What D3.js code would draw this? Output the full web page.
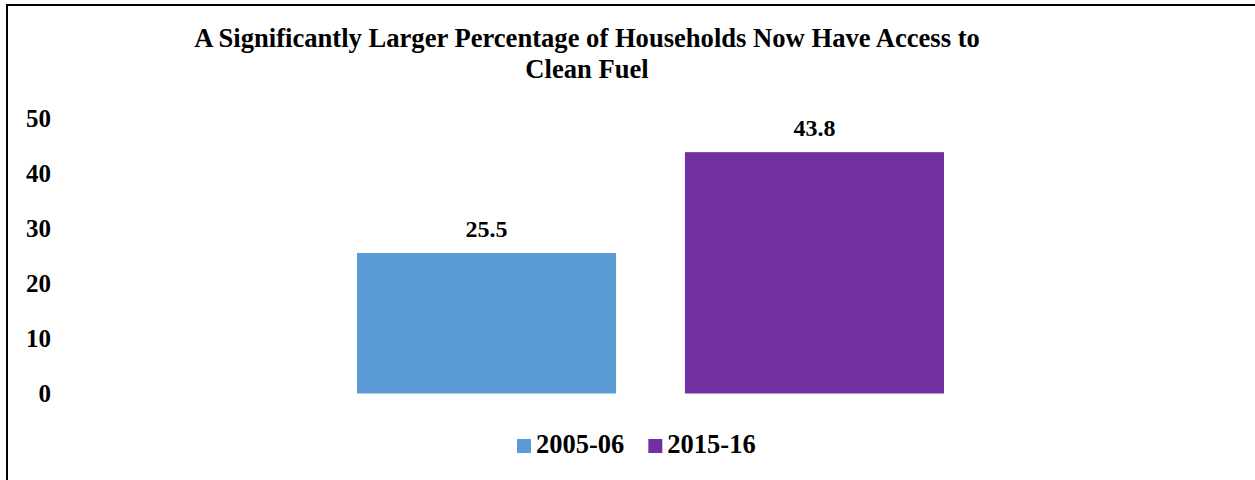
<!DOCTYPE html>
<html>
<head>
<meta charset="utf-8">
<script src="https://cdn.jsdelivr.net/npm/d3@7"></script>
<style>
  html, body { margin: 0; padding: 0; background: #fff; }
  text { font-family: "Liberation Serif", "Times New Roman", serif; font-weight: bold; fill: #000; }
</style>
</head>
<body>
<div id="chart"></div>
<script>
const titleLines = ["A Significantly Larger Percentage of Households Now Have Access to", "Clean Fuel"];
const series = ["2005-06", "2015-16"];
const values = [25.5, 43.8];
const colors = ["#5B9BD5", "#7030A0"];
const yTicks = [0, 10, 20, 30, 40, 50];

const width = 1255, height = 480;
const svg = d3.select("#chart").append("svg")
    .attr("width", width)
    .attr("height", height);

// outer frame, only left and top edges fall inside the picture
svg.append("rect")
    .attr("x", 7).attr("y", 5)
    .attr("width", 1300).attr("height", 520)
    .attr("fill", "none")
    .attr("stroke", "#000")
    .attr("stroke-width", 2);

const y = d3.scaleLinear().domain([0, 50]).range([393.5, 118]);
const x = d3.scaleBand().domain(series).range([357, 944]).paddingInner(0.21);

// title
svg.append("g").selectAll("text")
    .data(titleLines)
    .join("text")
    .attr("x", 587)
    .attr("y", (d, i) => 47 + i * 31)
    .attr("text-anchor", "middle")
    .style("font-size", "26.6px")
    .text(d => d);

// y axis, labels only
const yAxis = svg.append("g")
    .attr("transform", "translate(51,0)")
    .call(d3.axisLeft(y).tickValues(yTicks).tickSize(0).tickPadding(0).tickFormat(d3.format("d")));
yAxis.select(".domain").remove();
yAxis.selectAll("text")
    .style("font-size", "25px")
    .style("font-family", "'Liberation Serif', 'Times New Roman', serif")
    .style("font-weight", "bold")
    .attr("fill", "#000");

// bars
svg.append("g").selectAll("rect")
    .data(values)
    .join("rect")
    .attr("x", (d, i) => x(series[i]))
    .attr("y", d => y(d))
    .attr("width", x.bandwidth())
    .attr("height", d => y(0) - y(d))
    .attr("fill", (d, i) => colors[i]);

// value labels
svg.append("g").selectAll("text")
    .data(values)
    .join("text")
    .attr("x", (d, i) => x(series[i]) + x.bandwidth() / 2)
    .attr("y", d => y(d) - 16)
    .attr("text-anchor", "middle")
    .style("font-size", "24px")
    .text(d => d3.format(".1f")(d));

// legend
const legend = svg.append("g");
let lx = 517;
series.forEach((s, i) => {
    legend.append("rect")
        .attr("x", lx).attr("y", 439)
        .attr("width", 14).attr("height", 14)
        .attr("fill", colors[i]);
    const t = legend.append("text")
        .attr("x", lx + 19)
        .attr("y", 453)
        .style("font-size", "26.5px")
        .text(s);
    lx += 19 + t.node().getComputedTextLength() + 24;
});
</script>
</body>
</html>
